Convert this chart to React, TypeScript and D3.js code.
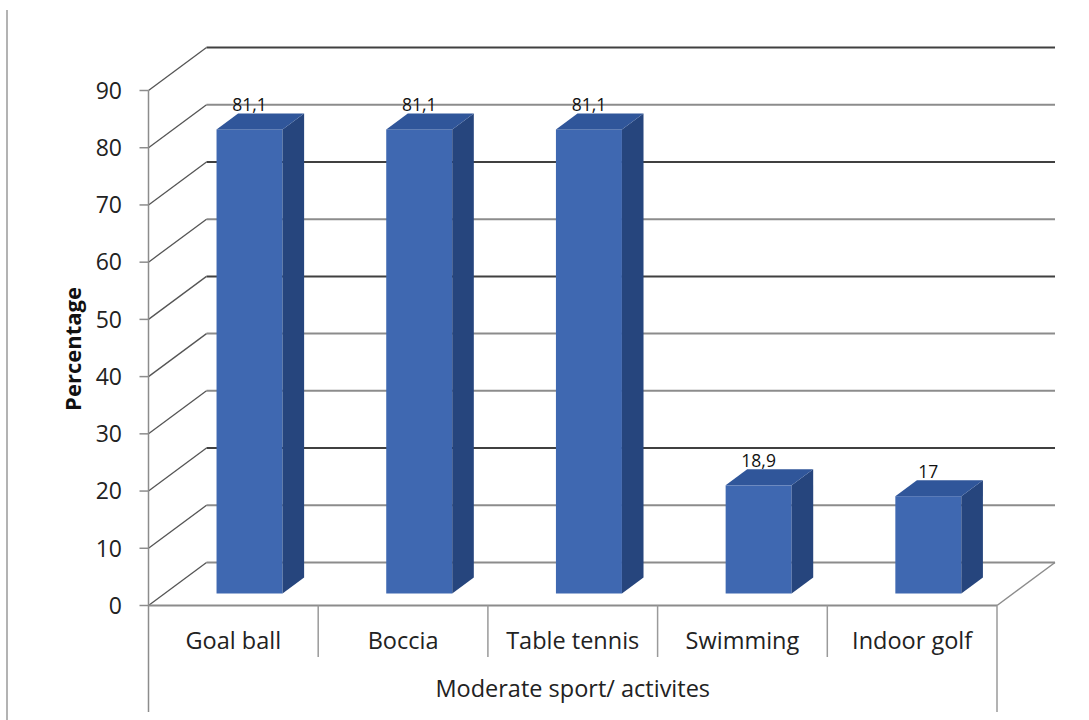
import React from "react";
import * as d3 from "d3";

const categories = ["Goal ball", "Boccia", "Table tennis", "Swimming", "Indoor golf"];
const values = [81.1, 81.1, 81.1, 18.9, 17];
const valueLabels = ["81,1", "81,1", "81,1", "18,9", "17"];
const yTicks = [0, 10, 20, 30, 40, 50, 60, 70, 80, 90];
const yTitle = "Percentage";
const xTitle = "Moderate sport/ activites";

const W = 1089;
const H = 720;
const X0 = 148.5;
const X1 = 997;
const DX = 58;
const DY = -43;
const F0 = 12 / 43;
const F1 = 28 / 43;
const BAR_W = 66;
const FONT = "'Open Sans', 'Liberation Sans', sans-serif";

export default function App() {
  const y = d3.scaleLinear().domain([0, 90]).range([605.5, 90.5]);
  const x = d3.scaleBand<string>().domain(categories).range([X0, X1]).padding(0);
  const bw = x.bandwidth();
  const darkSet = new Set([90, 70, 50, 20]);

  const pts = (arr: [number, number][]) => arr.map((p) => p.join(",")).join(" ");

  return (
    <svg width={W} height={H} style={{ position: "absolute", left: 0, top: 0, background: "#fff" }}>
      {/* left border */}
      <line x1={7} x2={7} y1={10} y2={H} stroke="#9a9a9a" strokeWidth={1.5} />

      {/* back wall gridlines */}
      {yTicks.map((t) => (
        <line
          key={"g" + t}
          x1={X0 + DX}
          x2={X1 + DX}
          y1={y(t) + DY}
          y2={y(t) + DY}
          stroke={darkSet.has(t) ? "#404040" : "#8c8c8c"}
          strokeWidth={2}
        />
      ))}
      {/* side wall diagonals */}
      {yTicks.map((t) => (
        <line
          key={"d" + t}
          x1={X0}
          y1={y(t)}
          x2={X0 + DX}
          y2={y(t) + DY}
          stroke="#555"
          strokeWidth={1.3}
        />
      ))}
      {/* floor front and right edges */}
      <line x1={X0} x2={X1} y1={y(0)} y2={y(0)} stroke="#8c8c8c" strokeWidth={2} />
      <line x1={X1} y1={y(0)} x2={X1 + DX} y2={y(0) + DY} stroke="#8c8c8c" strokeWidth={1.5} />

      {/* y axis */}
      <line x1={X0} x2={X0} y1={y(90)} y2={712} stroke="#8c8c8c" strokeWidth={1.5} />
      {yTicks.map((t) => (
        <g key={"t" + t}>
          <line x1={X0 - 9} x2={X0} y1={y(t)} y2={y(t)} stroke="#8c8c8c" strokeWidth={1.5} />
          <text
            x={122}
            y={y(t)}
            dy="0.36em"
            textAnchor="end"
            fontFamily={FONT}
            fontSize={23}
            fill="#222"
          >
            {t}
          </text>
        </g>
      ))}

      {/* category separators */}
      {categories.map((c, i) =>
        i === 0 ? null : (
          <line
            key={"s" + c}
            x1={x(c)!}
            x2={x(c)!}
            y1={y(0)}
            y2={657}
            stroke="#9a9a9a"
            strokeWidth={1.5}
          />
        )
      )}
      <line x1={X1} x2={X1} y1={y(0)} y2={712} stroke="#9a9a9a" strokeWidth={1.5} />

      {/* bars */}
      {categories.map((c, i) => {
        const v = values[i];
        const bx = x(c)! + bw / 2 - BAR_W / 2;
        const fx = bx + F0 * DX;
        const ox = (F1 - F0) * DX;
        const oy = (F1 - F0) * DY;
        const top = y(v) + F0 * DY;
        const bot = y(0) + F0 * DY;
        return (
          <g key={"b" + c}>
            <rect x={fx} y={top} width={BAR_W} height={bot - top} fill="#3f68b1" />
            <polygon
              points={pts([
                [fx + BAR_W, top],
                [fx + BAR_W + ox, top + oy],
                [fx + BAR_W + ox, bot + oy],
                [fx + BAR_W, bot],
              ])}
              fill="#26457d"
            />
            <polygon
              points={pts([
                [fx, top],
                [fx + BAR_W, top],
                [fx + BAR_W + ox, top + oy],
                [fx + ox, top + oy],
              ])}
              fill="#30569a"
            />
            <text
              x={fx + BAR_W / 2}
              y={top + oy - 2}
              textAnchor="middle"
              fontFamily={FONT}
              fontSize={17.5}
              fill="#111"
            >
              {valueLabels[i]}
            </text>
          </g>
        );
      })}

      {/* category labels */}
      {categories.map((c) => (
        <text
          key={"c" + c}
          x={x(c)! + bw / 2}
          y={649}
          textAnchor="middle"
          fontFamily={FONT}
          fontSize={23.5}
          fill="#222"
        >
          {c}
        </text>
      ))}

      {/* axis titles */}
      <text
        x={(X0 + X1) / 2}
        y={697}
        textAnchor="middle"
        fontFamily={FONT}
        fontSize={23.5}
        fill="#222"
      >
        {xTitle}
      </text>
      <text
        transform={`translate(81,349) rotate(-90)`}
        textAnchor="middle"
        fontFamily={FONT}
        fontSize={22}
        fontWeight="bold"
        fill="#111"
      >
        {yTitle}
      </text>
    </svg>
  );
}
